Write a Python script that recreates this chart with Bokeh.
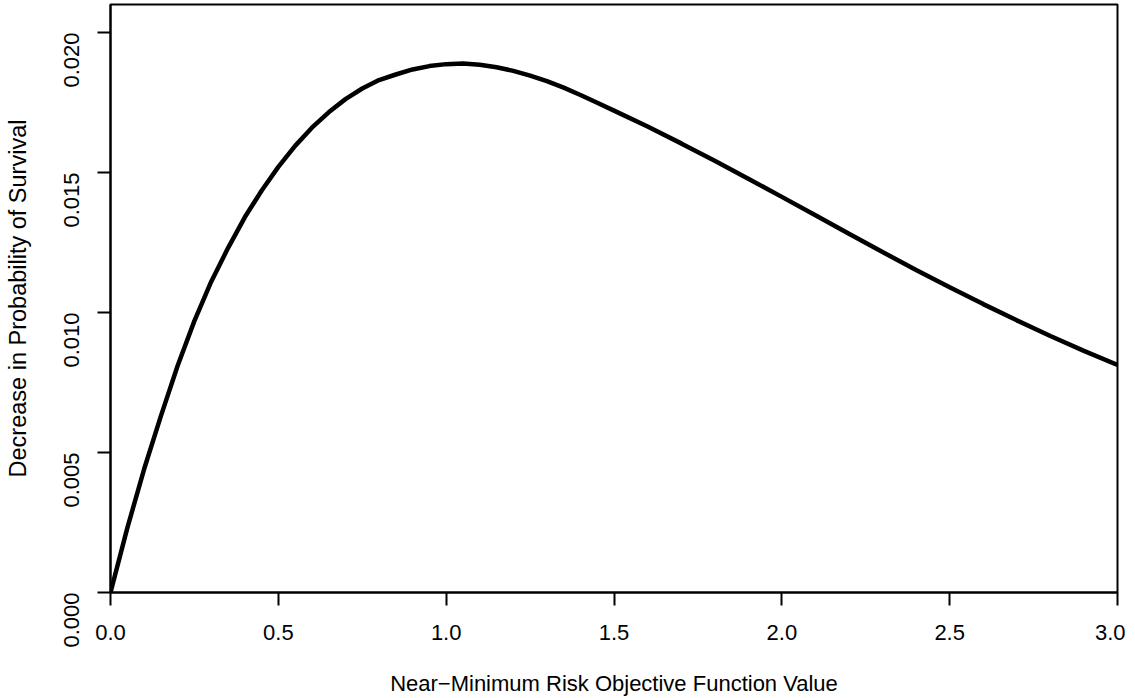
import math
from bokeh.plotting import figure
from bokeh.models import FixedTicker, NumeralTickFormatter, Range1d
from bokeh.embed import file_html
from bokeh.resources import INLINE

x_vals = [0.0, 0.05, 0.1, 0.15, 0.2, 0.25, 0.3, 0.35, 0.4, 0.45, 0.5, 0.55, 0.6, 0.65,
          0.7, 0.75, 0.8, 0.85, 0.9, 0.95, 1.0, 1.05, 1.1, 1.15, 1.2, 1.25, 1.3, 1.35,
          1.4, 1.45, 1.5, 1.6, 1.7, 1.8, 1.9, 2.0, 2.1, 2.2, 2.3, 2.4, 2.5, 2.6, 2.7,
          2.8, 2.9, 3.0]
y_vals = [0.0, 0.0023, 0.0044, 0.0063, 0.0081, 0.0097, 0.0111, 0.0123, 0.0134, 0.01435,
          0.0152, 0.01595, 0.0166, 0.01715, 0.01762, 0.0180, 0.0183, 0.0185, 0.01868,
          0.0188, 0.01887, 0.01889, 0.01885, 0.01876, 0.01863, 0.01846, 0.01826,
          0.01803, 0.01777, 0.01749, 0.01721, 0.01664, 0.01604, 0.01542, 0.01478,
          0.01413, 0.01347, 0.01281, 0.01216, 0.01152, 0.0109, 0.0103, 0.00972,
          0.00916, 0.00863, 0.00813]

x_ticks = [0.0, 0.5, 1.0, 1.5, 2.0, 2.5, 3.0]
y_ticks = [0.000, 0.005, 0.010, 0.015, 0.020]

FONT = "Liberation Sans"

p = figure(width=1125, height=698, output_backend="svg", toolbar_location=None,
           x_range=Range1d(0, 3.0), y_range=Range1d(0, 0.0210),
           min_border_left=110, min_border_right=8, min_border_top=4, min_border_bottom=105)

p.line(x_vals, y_vals, line_color="black", line_width=4.5)

p.grid.visible = False
p.outline_line_color = "black"
p.outline_line_width = 2
p.background_fill_color = "white"
p.border_fill_color = "white"

for ax in (p.xaxis[0], p.yaxis[0]):
    ax.axis_line_color = "black"
    ax.axis_line_width = 2
    ax.major_tick_line_color = "black"
    ax.major_tick_line_width = 2
    ax.major_tick_out = 13
    ax.major_tick_in = 0
    ax.minor_tick_line_color = None
    ax.major_label_text_font = FONT
    ax.major_label_text_font_size = "22px"
    ax.major_label_text_color = "black"
    ax.axis_label_text_font = FONT
    ax.axis_label_text_font_style = "normal"
    ax.axis_label_text_color = "black"

p.xaxis[0].ticker = FixedTicker(ticks=x_ticks)
p.xaxis[0].formatter = NumeralTickFormatter(format="0.0")
p.xaxis[0].major_label_standoff = 19
p.xaxis[0].axis_label = "Near\u2212Minimum Risk Objective Function Value"
p.xaxis[0].axis_label_text_font_size = "22px"
p.xaxis[0].axis_label_standoff = 28

p.yaxis[0].ticker = FixedTicker(ticks=y_ticks)
p.yaxis[0].formatter = NumeralTickFormatter(format="0.000")
p.yaxis[0].major_label_orientation = math.pi / 2
p.yaxis[0].major_label_standoff = 26
p.yaxis[0].axis_label = "Decrease in Probability of Survival"
p.yaxis[0].axis_label_text_font_size = "23.5px"
p.yaxis[0].axis_label_standoff = 23

open("out.html", "w").write(file_html(p, INLINE))
